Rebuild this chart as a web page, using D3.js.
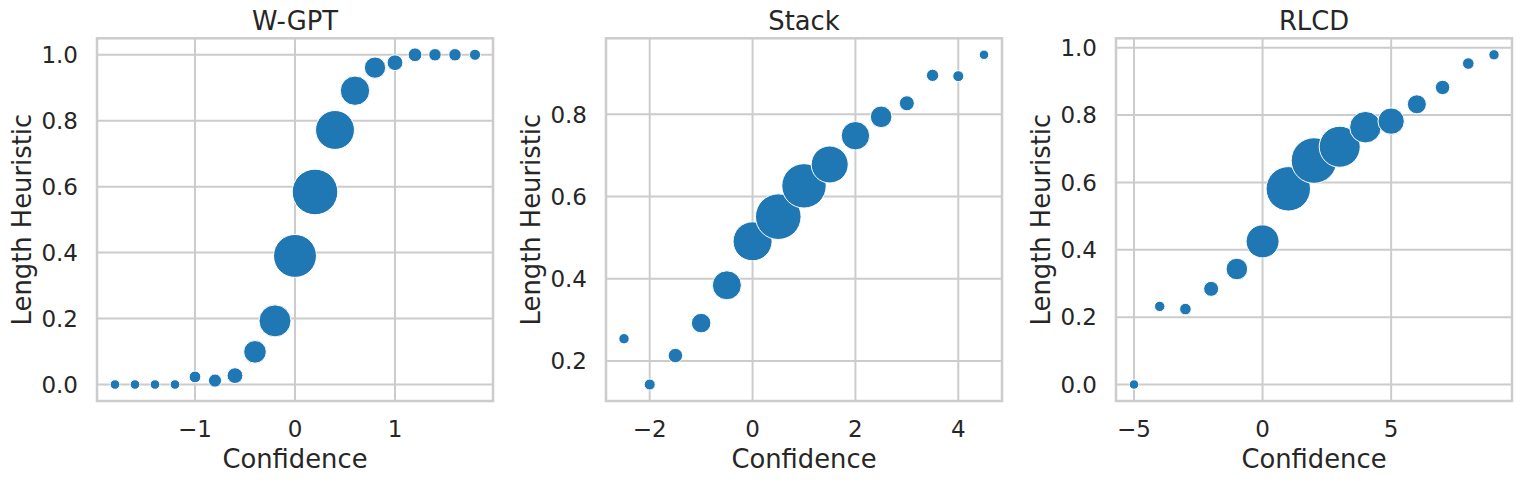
<!DOCTYPE html>
<html>
<head>
<meta charset="utf-8">
<script src="https://cdn.jsdelivr.net/npm/d3@7/dist/d3.min.js"></script>
<style>
  body { margin: 0; background: #fff; }
  svg text { font-family: "DejaVu Sans", sans-serif; fill: #262626; }
</style>
</head>
<body>
<div id="chart"></div>
<script>
// --- data ---
const titles = ['W-GPT', 'Stack', 'RLCD'];

const wgptX = [-1.8, -1.6, -1.4, -1.2, -1.0, -0.8, -0.6, -0.4, -0.2, 0, 0.2, 0.4, 0.6, 0.8, 1.0, 1.2, 1.4, 1.6, 1.8];
const wgptY = [0, 0, 0, 0, 0.023, 0.012, 0.027, 0.099, 0.193, 0.39, 0.584, 0.772, 0.891, 0.961, 0.976, 1.0, 1.0, 1.0, 1.0];
const wgptCount = [18, 18, 18, 18, 28, 36, 53, 114, 234, 428, 484, 350, 196, 100, 53, 40, 32, 32, 25];

const stackX = [-2.5, -2.0, -1.5, -1.0, -0.5, 0, 0.5, 1.0, 1.5, 2.0, 2.5, 3.0, 3.5, 4.0, 4.5];
const stackY = [0.254, 0.1425, 0.213, 0.292, 0.384, 0.491, 0.551, 0.626, 0.678, 0.748, 0.794, 0.827, 0.895, 0.893, 0.945];
const stackCount = [22, 25, 45, 86, 196, 361, 497, 471, 324, 188, 106, 49, 32, 25, 18];

const rlcdX = [-5, -4, -3, -2, -1, 0, 1, 2, 3, 4, 5, 6, 7, 8, 9];
const rlcdY = [0, 0.232, 0.224, 0.284, 0.343, 0.425, 0.581, 0.665, 0.706, 0.764, 0.782, 0.832, 0.882, 0.953, 0.979];
const rlcdCount = [18, 22, 28, 49, 106, 256, 471, 497, 400, 234, 161, 81, 45, 28, 22];

const xTicks = [[-1, 0, 1], [-2, 0, 2, 4], [-5, 0, 5]];
const yTicks = [[0, 0.2, 0.4, 0.6, 0.8, 1.0], [0.2, 0.4, 0.6, 0.8], [0, 0.2, 0.4, 0.6, 0.8, 1.0]];

const panels = [
  { x: wgptX, y: wgptY, n: wgptCount },
  { x: stackX, y: stackY, n: stackCount },
  { x: rlcdX, y: rlcdY, n: rlcdCount }
];

// --- layout ---
const W = 1522, H = 484;
const lefts = [97, 606, 1116];
const plotW = 396;
const plotTop = 38.3, plotBottom = 401;
const color = '#1f77b4';
const gridColor = '#cccccc';

const svg = d3.select('#chart').append('svg')
  .attr('width', W)
  .attr('height', H);

// matplotlib-style 5% padding
function padded(vals) {
  const [lo, hi] = d3.extent(vals);
  const m = (hi - lo) * 0.05;
  return [lo - m, hi + m];
}

const fmtX = d => d3.format('d')(d).replace('-', '\u2212');
const fmtY = d3.format('.1f');

panels.forEach((p, i) => {
  const left = lefts[i];
  const right = left + plotW;

  const x = d3.scaleLinear().domain(padded(p.x)).range([left, right]);
  const y = d3.scaleLinear().domain(padded(p.y)).range([plotBottom, plotTop]);
  const r = d3.scaleSqrt().domain([0, d3.max(p.n)]).range([0, 22.3]);

  const g = svg.append('g');

  // grid
  g.append('g').selectAll('line')
    .data(xTicks[i])
    .join('line')
    .attr('x1', d => x(d)).attr('x2', d => x(d))
    .attr('y1', plotTop).attr('y2', plotBottom)
    .attr('stroke', gridColor).attr('stroke-width', 2);

  g.append('g').selectAll('line')
    .data(yTicks[i])
    .join('line')
    .attr('x1', left).attr('x2', right)
    .attr('y1', d => y(d)).attr('y2', d => y(d))
    .attr('stroke', gridColor).attr('stroke-width', 2);

  // points (white edge sits outside the visible blue disc)
  g.append('g').selectAll('circle')
    .data(p.x.map((v, k) => ({ x: v, y: p.y[k], n: p.n[k] })))
    .join('circle')
    .attr('cx', d => x(d.x))
    .attr('cy', d => y(d.y))
    .attr('r', d => r(d.n) + 0.5)
    .attr('fill', color)
    .attr('stroke', '#fff')
    .attr('stroke-width', 1);

  // frame
  g.append('rect')
    .attr('x', left).attr('y', plotTop)
    .attr('width', plotW).attr('height', plotBottom - plotTop)
    .attr('fill', 'none')
    .attr('stroke', gridColor)
    .attr('stroke-width', 2.5);

  // tick labels
  g.append('g').selectAll('text')
    .data(xTicks[i])
    .join('text')
    .attr('x', d => x(d))
    .attr('y', 436.7)
    .attr('text-anchor', 'middle')
    .style('font-size', '23px')
    .text(fmtX);

  g.append('g').selectAll('text')
    .data(yTicks[i])
    .join('text')
    .attr('x', left - 19)
    .attr('y', d => y(d))
    .attr('dy', '0.36em')
    .attr('text-anchor', 'end')
    .style('font-size', '23px')
    .text(fmtY);

  // axis labels and title
  g.append('text')
    .attr('x', (left + right) / 2)
    .attr('y', 467.7)
    .attr('text-anchor', 'middle')
    .style('font-size', '25.8px')
    .text('Confidence');

  g.append('text')
    .attr('transform', `translate(${left - 66.5}, ${(plotTop + plotBottom) / 2}) rotate(-90)`)
    .attr('text-anchor', 'middle')
    .style('font-size', '25.8px')
    .text('Length Heuristic');

  g.append('text')
    .attr('x', (left + right) / 2)
    .attr('y', 30)
    .attr('text-anchor', 'middle')
    .style('font-size', '25.8px')
    .text(titles[i]);
});
</script>
</body>
</html>
